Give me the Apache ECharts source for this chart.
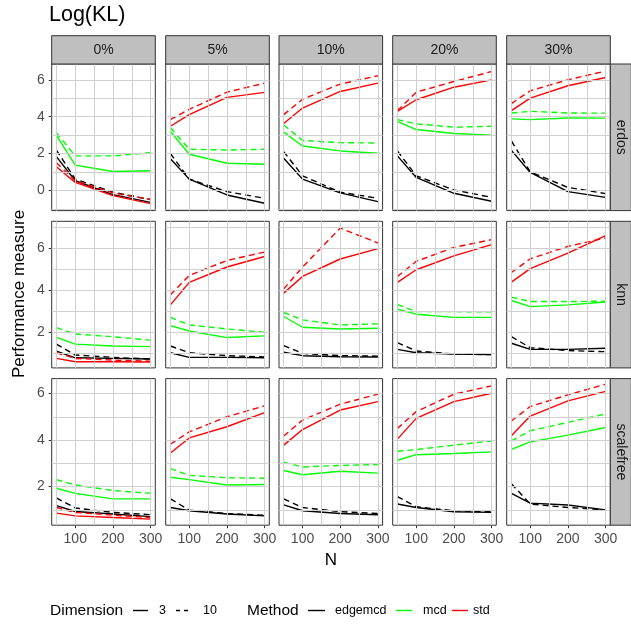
<!DOCTYPE html>
<html>
<head>
<meta charset="utf-8">
<script src="https://cdn.jsdelivr.net/npm/echarts@6/dist/echarts.min.js"></script>
<style>
html,body{margin:0;padding:0;background:#fff;}
#chart{width:631px;height:624px;}
</style>
</head>
<body>
<div id="chart"></div>
<script>
// ---------------- data ----------------
const N = [50, 100, 200, 300];
const noiseLevels = ['0%', '5%', '10%', '20%', '30%'];
const graphTypes = ['erdos', 'knn', 'scalefree'];
const methods = ['edgemcd', 'mcd', 'std'];
const dimensions = ['3', '10'];
const xTickLabels = [100, 200, 300];
const yTickLabels = [[0, 2, 4, 6], [2, 4, 6], [2, 4, 6]];

// each array: one row of 4 values (N = 50,100,200,300) per noise level 0%,5%,10%,20%,30%
const erdos_edgemcd_3  = [[1.83,0.52,-0.23,-0.65],[1.72,0.61,-0.25,-0.70],[1.74,0.61,-0.14,-0.61],[1.87,0.70,-0.16,-0.59],[2.17,0.97,-0.07,-0.38]];
const erdos_edgemcd_10 = [[2.19,0.61,-0.10,-0.50],[2.00,0.61,-0.07,-0.43],[2.10,0.79,-0.10,-0.43],[2.14,0.79,0.02,-0.38],[2.68,1.00,0.16,-0.18]];
const erdos_mcd_3      = [[2.98,1.37,1.02,1.06],[3.20,1.96,1.47,1.42],[3.16,2.41,2.14,2.01],[3.75,3.30,3.09,3.00],[3.88,3.84,3.93,3.92]];
const erdos_mcd_10     = [[3.13,1.87,1.87,2.05],[3.40,2.23,2.19,2.23],[3.55,2.71,2.59,2.57],[3.84,3.61,3.43,3.48],[4.20,4.29,4.20,4.19]];
const erdos_std_3      = [[1.28,0.43,-0.29,-0.72],[3.48,4.11,5.05,5.32],[3.63,4.47,5.37,5.82],[4.29,4.92,5.60,6.00],[4.33,5.01,5.68,6.13]];
const erdos_std_10     = [[1.50,0.52,-0.14,-0.50],[3.84,4.40,5.33,5.82],[4.11,4.95,5.77,6.22],[4.33,5.33,5.91,6.45],[4.71,5.41,6.00,6.48]];

const knn_edgemcd_3  = [[1.11,0.79,0.76,0.73],[1.03,0.81,0.81,0.79],[1.05,0.89,0.84,0.83],[1.19,1.03,0.97,0.94],[1.48,1.19,1.19,1.24]];
const knn_edgemcd_10 = [[1.44,0.92,0.81,0.73],[1.35,1.03,0.89,0.83],[1.37,1.00,0.89,0.87],[1.51,1.11,0.97,0.94],[1.79,1.27,1.13,1.08]];
const knn_mcd_3      = [[1.76,1.44,1.35,1.32],[2.32,2.06,1.75,1.83],[2.75,2.24,2.16,2.19],[3.10,2.86,2.71,2.71],[3.51,3.22,3.30,3.44]];
const knn_mcd_10     = [[2.22,1.92,1.79,1.63],[2.71,2.35,2.16,2.00],[2.94,2.59,2.35,2.40],[3.32,2.98,2.98,2.97],[3.67,3.46,3.46,3.48]];
const knn_std_3      = [[0.76,0.60,0.60,0.59],[3.30,4.37,5.10,5.60],[3.86,4.65,5.48,5.97],[4.37,4.97,5.63,6.16],[4.38,5.02,5.76,6.59]];
const knn_std_10     = [[1.03,0.76,0.68,0.63],[3.78,4.70,5.41,5.81],[4.06,5.10,6.95,6.24],[4.65,5.37,6.03,6.40],[4.84,5.49,6.08,6.48]];

const scalefree_edgemcd_3  = [[1.18,0.93,0.82,0.71],[1.10,0.96,0.82,0.74],[1.21,0.96,0.84,0.79],[1.25,1.10,0.92,0.89],[1.71,1.29,1.21,1.00]];
const scalefree_edgemcd_10 = [[1.51,1.08,0.89,0.79],[1.47,0.99,0.84,0.77],[1.47,1.10,0.92,0.84],[1.57,1.13,0.96,0.92],[2.12,1.25,1.10,1.00]];
const scalefree_mcd_3      = [[1.93,1.71,1.47,1.47],[2.40,2.30,2.07,2.09],[2.69,2.51,2.66,2.58],[3.13,3.37,3.42,3.49],[3.60,3.92,4.21,4.54]];
const scalefree_mcd_10     = [[2.30,2.07,1.83,1.71],[2.77,2.48,2.38,2.36],[3.05,2.84,2.91,2.95],[3.52,3.59,3.78,3.96],[3.96,4.40,4.76,5.12]];
const scalefree_std_3      = [[0.86,0.74,0.67,0.60],[3.44,4.09,4.57,5.18],[3.78,4.45,5.29,5.65],[4.04,4.93,5.65,6.01],[4.18,5.03,5.68,6.09]];
const scalefree_std_10     = [[1.10,0.89,0.77,0.67],[3.82,4.35,5.00,5.47],[4.17,4.86,5.54,5.97],[4.50,5.22,5.97,6.33],[4.82,5.44,5.94,6.40]];

// grid line positions (major + minor breaks, ggplot style)
const xGridVals = [50, 100, 150, 200, 250, 300];
const yGridVals = [[-1, 0, 1, 2, 3, 4, 5, 6], [1, 2, 3, 4, 5, 6, 7], [1, 2, 3, 4, 5, 6]];

const valueTable = {
  erdos:     {edgemcd: {'3': erdos_edgemcd_3, '10': erdos_edgemcd_10}, mcd: {'3': erdos_mcd_3, '10': erdos_mcd_10}, std: {'3': erdos_std_3, '10': erdos_std_10}},
  knn:       {edgemcd: {'3': knn_edgemcd_3, '10': knn_edgemcd_10}, mcd: {'3': knn_mcd_3, '10': knn_mcd_10}, std: {'3': knn_std_3, '10': knn_std_10}},
  scalefree: {edgemcd: {'3': scalefree_edgemcd_3, '10': scalefree_edgemcd_10}, mcd: {'3': scalefree_mcd_3, '10': scalefree_mcd_10}, std: {'3': scalefree_std_3, '10': scalefree_std_10}}
};

// ---------------- layout / style ----------------
const FONT = "'Liberation Sans', Arial, Helvetica, sans-serif";
const methodColor = {edgemcd: '#000000', mcd: '#00ff00', std: '#ff0000'};
const dashType = {'3': 'solid', '10': [6, 4]};
const colLeft = [51.7, 165.7, 279, 392.7, 506.7];
const panelW = 103.6;
const rowTop = [64, 221.3, 378.6];
const panelH = 146.6;
const yRange = [[-1.1, 6.86], [0.31, 7.27], [0.34, 6.64]];
const gridColor = '#d0d0d0';

const grid = [], xAxis = [], yAxis = [], series = [], graphic = [];
let gi = 0;
graphTypes.forEach((g, r) => {
  noiseLevels.forEach((lvl, c) => {
    grid.push({left: colLeft[c], top: rowTop[r], width: panelW, height: panelH,
      show: true, backgroundColor: '#fff', borderColor: '#333333', borderWidth: 1, containLabel: false});
    xAxis.push({
      type: 'value', gridIndex: gi, min: 37.5, max: 312.5,
      axisLine: {show: false},
      axisTick: {show: r === 2, length: 3, lineStyle: {color: '#333333'}, customValues: xTickLabels},
      splitLine: {show: false},
      axisLabel: {show: r === 2, customValues: xTickLabels, margin: 7, fontFamily: FONT, fontSize: 14, color: '#4d4d4d'}
    });
    yAxis.push({
      type: 'value', gridIndex: gi, min: yRange[r][0], max: yRange[r][1],
      axisLine: {show: false},
      axisTick: {show: c === 0, length: 3, lineStyle: {color: '#333333'}, customValues: yTickLabels[r]},
      splitLine: {show: false},
      axisLabel: {show: c === 0, customValues: yTickLabels[r], margin: 7, fontFamily: FONT, fontSize: 14, color: '#4d4d4d'}
    });
    // background grid lines, positioned through the axes' own scales
    series.push({
      type: 'line', xAxisIndex: gi, yAxisIndex: gi, data: [], silent: true, z: 1,
      markLine: {
        silent: true, symbol: 'none', label: {show: false}, animation: false,
        lineStyle: {color: gridColor, width: 1, type: 'solid'},
        data: xGridVals.map(v => ({xAxis: v})).concat(yGridVals[r].map(v => ({yAxis: v})))
      }
    });
    methods.forEach(m => {
      dimensions.forEach(d => {
        const vals = valueTable[g][m][d][c];
        series.push({
          type: 'line', xAxisIndex: gi, yAxisIndex: gi, symbol: 'none', silent: true, z: 3,
          data: N.map((n, k) => [n, vals[k]]),
          lineStyle: {color: methodColor[m], width: 1.4, type: dashType[d]},
          animation: false
        });
      });
    });
    gi++;
  });
});

// column strips
noiseLevels.forEach((lvl, c) => {
  graphic.push({type: 'rect', shape: {x: colLeft[c], y: 35.7, width: panelW, height: 28.3},
    style: {fill: '#bfbfbf', stroke: '#333333', lineWidth: 1}, z: 10});
  graphic.push({type: 'text', x: colLeft[c] + panelW / 2, y: 35.7 + 28.3 / 2,
    style: {text: lvl, font: '14px ' + FONT, fill: '#1a1a1a', textAlign: 'center', textVerticalAlign: 'middle'}, z: 11});
});
// row strips
graphTypes.forEach((g, r) => {
  graphic.push({type: 'rect', shape: {x: colLeft[4] + panelW, y: rowTop[r], width: 21, height: panelH},
    style: {fill: '#bfbfbf', stroke: '#333333', lineWidth: 1}, z: 10});
  graphic.push({type: 'text', x: colLeft[4] + panelW + 10.5, y: rowTop[r] + panelH / 2, rotation: -Math.PI / 2,
    style: {text: g, font: '14px ' + FONT, fill: '#1a1a1a', textAlign: 'center', textVerticalAlign: 'middle'}, z: 11});
});
// title and axis titles
graphic.push({type: 'text', x: 49, y: 15, style: {text: 'Log(KL)', font: '21.5px ' + FONT, fill: '#000', textAlign: 'left', textVerticalAlign: 'middle'}});
graphic.push({type: 'text', x: 331, y: 560, style: {text: 'N', font: '17px ' + FONT, fill: '#000', textAlign: 'center', textVerticalAlign: 'middle'}});
graphic.push({type: 'text', x: 19, y: 294, rotation: Math.PI / 2,
  style: {text: 'Performance measure', font: '17px ' + FONT, fill: '#000', textAlign: 'center', textVerticalAlign: 'middle'}});

// legend
const LY = 610.5;
function legendKey(x1, x2, color, dash) {
  graphic.push({type: 'line', shape: {x1: x1, y1: LY, x2: x2, y2: LY}, style: {stroke: color, lineWidth: 1.4, lineDash: dash}});
}
function legendText(x, txt, size) {
  graphic.push({type: 'text', x: x, y: LY, style: {text: txt, font: size + 'px ' + FONT, fill: '#000', textAlign: 'left', textVerticalAlign: 'middle'}});
}
legendText(50, 'Dimension', 15.5);
legendKey(133, 148, '#000', null); legendText(159, dimensions[0], 12.5);
legendKey(176, 191, '#000', [4, 4]); legendText(203, dimensions[1], 12.5);
legendText(247, 'Method', 15.5);
legendKey(308, 325, methodColor.edgemcd, null); legendText(335, methods[0], 12.5);
legendKey(396, 412, methodColor.mcd, null); legendText(423, methods[1], 12.5);
legendKey(452, 468, methodColor.std, null); legendText(473, methods[2], 12.5);

const chart = echarts.init(document.getElementById('chart'), null, {renderer: 'canvas'});
chart.setOption({animation: false, backgroundColor: '#fff', grid, xAxis, yAxis, series, graphic});
</script>
</body>
</html>
